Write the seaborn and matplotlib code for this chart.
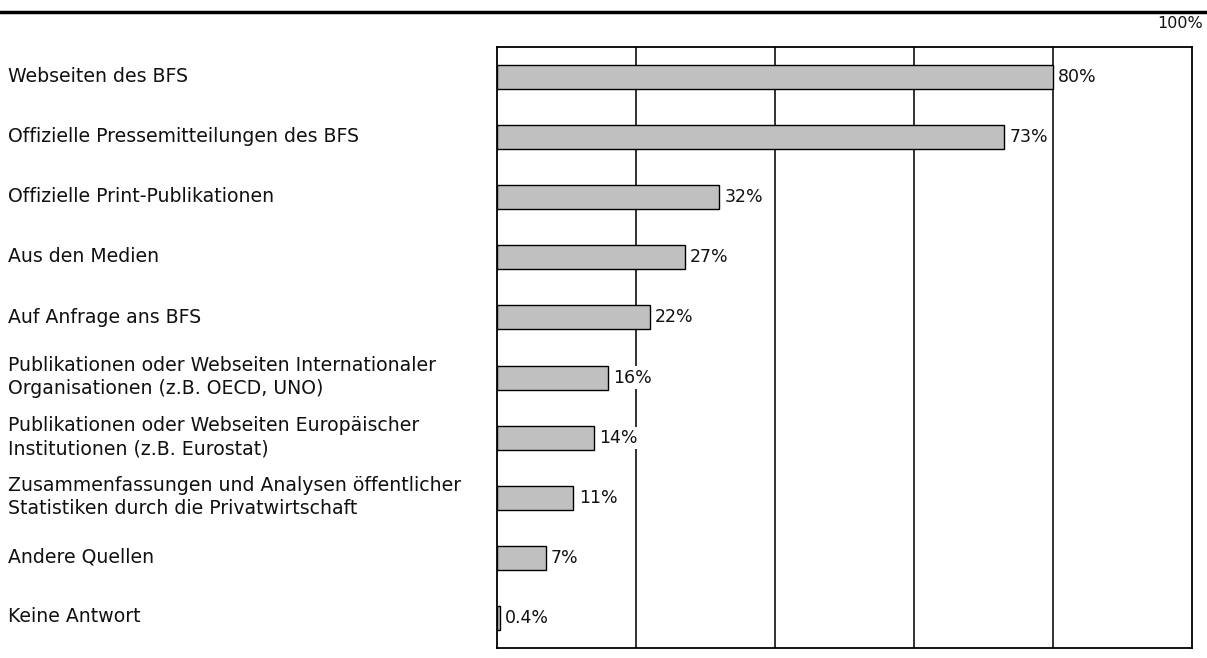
import matplotlib
matplotlib.use("Agg")
import matplotlib.pyplot as plt
import seaborn as sns
import pandas as pd
from matplotlib.lines import Line2D

categories = [
    "Webseiten des BFS",
    "Offizielle Pressemitteilungen des BFS",
    "Offizielle Print-Publikationen",
    "Aus den Medien",
    "Auf Anfrage ans BFS",
    "Publikationen oder Webseiten Internationaler\nOrganisationen (z.B. OECD, UNO)",
    "Publikationen oder Webseiten Europäischer\nInstitutionen (z.B. Eurostat)",
    "Zusammenfassungen und Analysen öffentlicher\nStatistiken durch die Privatwirtschaft",
    "Andere Quellen",
    "Keine Antwort",
]
values = [80, 73, 32, 27, 22, 16, 14, 11, 7, 0.4]
value_labels = ["80%", "73%", "32%", "27%", "22%", "16%", "14%", "11%", "7%", "0.4%"]

sns.set_theme(style="white")
plt.rcParams["font.family"] = ["DejaVu Sans"]

df = pd.DataFrame({"cat": categories, "val": values})

fig = plt.figure(figsize=(12.07, 6.58), dpi=100)
ax = fig.add_axes([497 / 1207, 1 - 648 / 658, (1192 - 497) / 1207, (648 - 47) / 658])

sns.barplot(data=df, y="cat", x="val", ax=ax, color="#c0c0c0", width=0.4,
            edgecolor="black", linewidth=1.0, saturation=1, zorder=3)

ax.set_xlim(0, 100)
ax.set_ylim(9.5, -0.5)
ax.set_xticks([20, 40, 60, 80])
ax.xaxis.grid(True, color="#222222", linewidth=1.3, zorder=0)
ax.yaxis.grid(False)
ax.set_axisbelow(True)
ax.tick_params(axis="x", length=0, labelbottom=False)
ax.tick_params(axis="y", length=0, labelleft=False)
ax.set_xlabel("")
ax.set_ylabel("")
for s in ax.spines.values():
    s.set_color("black")
    s.set_linewidth(1.3)

for i, (v, lab) in enumerate(zip(values, value_labels)):
    ax.text(v + 0.75, i, lab, va="center", ha="left", fontsize=12.5, color="#111111",
            bbox=dict(facecolor="white", edgecolor="none", pad=1.5), zorder=4)

for i, c in enumerate(categories):
    y_pix = 658 - (77 + 60 * i)
    fig.text(8 / 1207, y_pix / 658, c, ha="left", va="center", fontsize=13.6,
             color="#111111", linespacing=1.27)

fig.add_artist(Line2D([0, 1], [1 - 11.5 / 658, 1 - 11.5 / 658], transform=fig.transFigure,
                      color="black", linewidth=2.5))
fig.text(1203 / 1207, 1 - 24 / 658, "100%", ha="right", va="center", fontsize=11.5,
         color="#111111")

fig.savefig("out.png", dpi=100, facecolor="white")
